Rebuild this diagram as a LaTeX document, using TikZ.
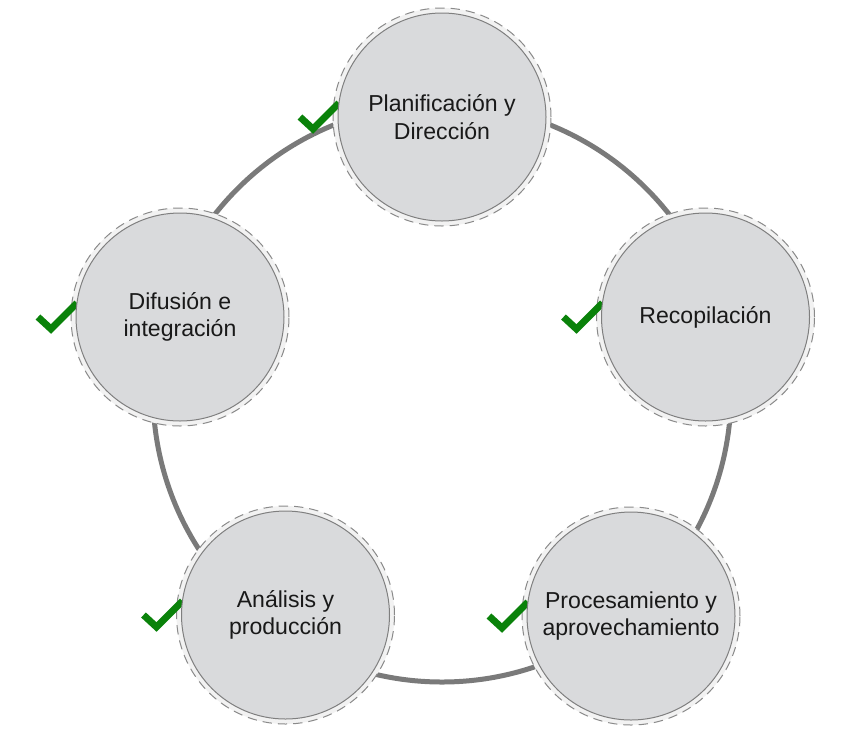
\documentclass[tikz,border=0pt]{standalone}
\usepackage{fontspec}
\setmainfont{Liberation Sans}
\definecolor{ringgray}{HTML}{7A7A7A}
\definecolor{discfill}{HTML}{D9DADC}
\definecolor{discline}{HTML}{7F7F7F}
\definecolor{halofill}{HTML}{F2F2F2}
\definecolor{haloline}{HTML}{8A8A8A}
\definecolor{checkgreen}{HTML}{0A820A}
\begin{document}
\begin{tikzpicture}[x=0.75pt,y=-0.75pt,
  stage/.style={circle,minimum size=156pt,inner sep=0pt,fill=discfill,draw=discline,line width=0.75pt,
    align=center,text=black!90,font=\fontsize{17.3}{20.8}\selectfont},
  halo/.style={circle,minimum size=163.5pt,inner sep=0pt,fill=halofill,draw=haloline,line width=0.75pt,
    dash pattern=on 7pt off 4.5pt},
  cycle ring/.style={draw=ringgray,line width=3.75pt},
  tick/.style={draw=checkgreen,line width=5.2pt,line join=miter,line cap=butt}]
\useasboundingbox (0,0) rectangle (845,740);
\coordinate (ctr) at (442,393);
\draw[cycle ring] (ctr) circle[radius=216.75pt];
% positions
\coordinate (pP) at (442,117);
\coordinate (pR) at (705.5,317);
\coordinate (pB) at (631,616);
\coordinate (pA) at (285.5,615);
\coordinate (pD) at (180,317);
% halos
\foreach \p in {pP,pR,pB,pA,pD}{
  \node[halo] (h\p) at (\p) {};
}
% check marks
\foreach \p in {pP,pR,pB,pA,pD}{
  \draw[tick] ([shift={(-142,0)}]\p) -- ([shift={(-129,12)}]\p) -- ([shift={(-103,-14)}]\p);
}
\node[stage] (plan) at (pP) {Planificación y\\Dirección};
\node[stage] (reco) at (pR) {Recopilación};
\node[stage] (proc) at (pB) {Procesamiento y\\aprovechamiento};
\node[stage] (anal) at (pA) {Análisis y\\producción};
\node[stage] (difu) at (pD) {Difusión e\\integración};
\end{tikzpicture}
\end{document}
